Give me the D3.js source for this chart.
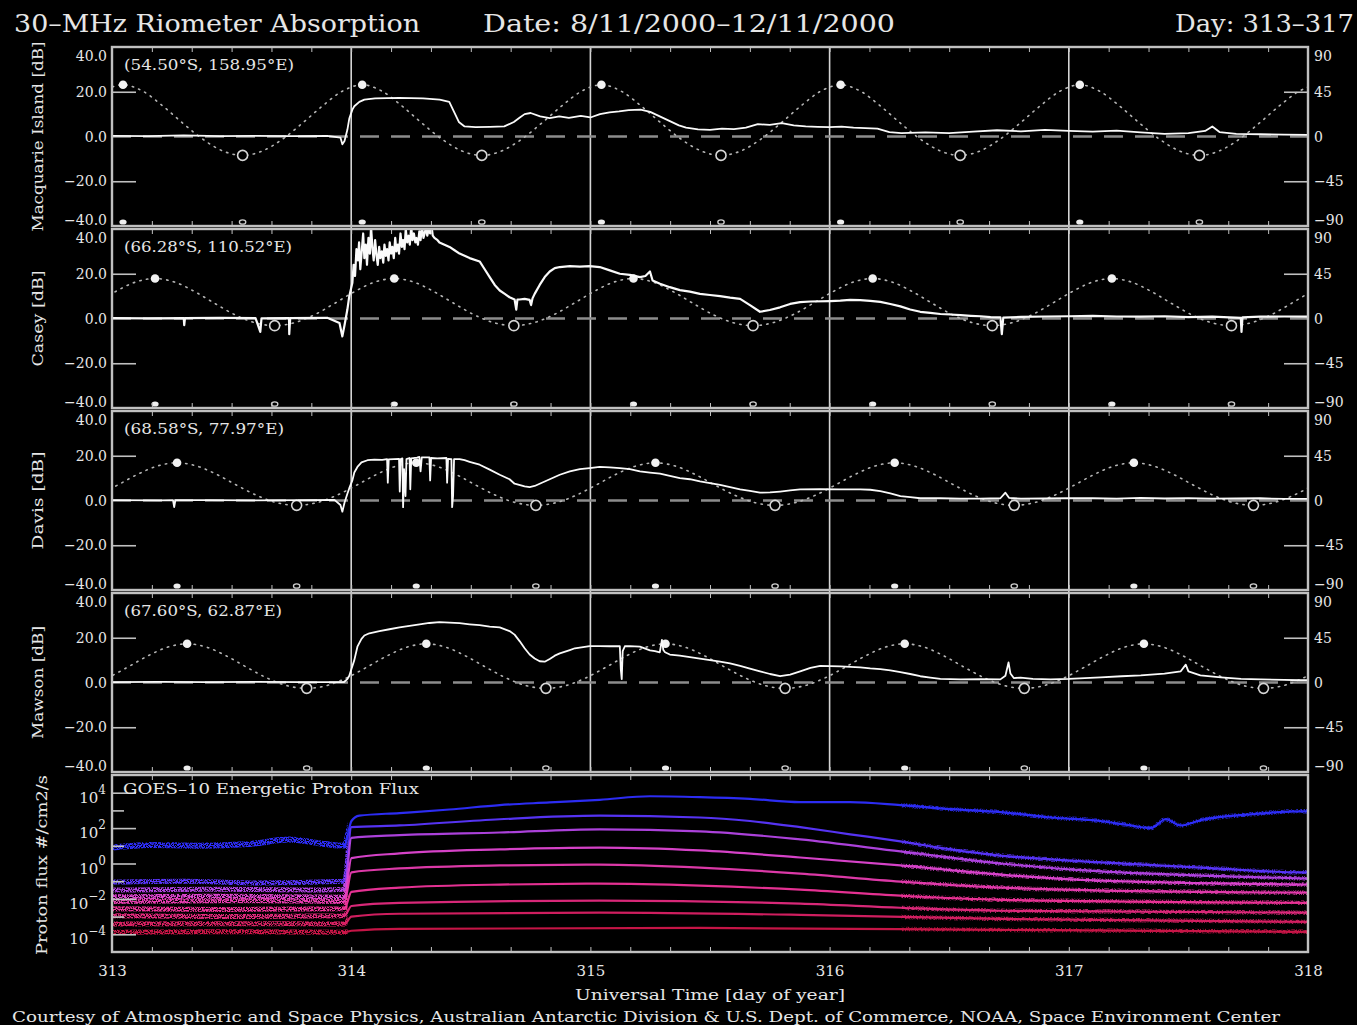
<!DOCTYPE html>
<html>
<head>
<meta charset="utf-8">
<title>30-MHz Riometer Absorption</title>
<script src="https://cdn.jsdelivr.net/npm/d3@7"></script>
<style>
  html, body { margin: 0; padding: 0; background: #000; }
  svg { display: block; }
</style>
</head>
<body>
<svg id="chart" width="1357" height="1025"></svg>
<script>
// ---------- axis ticks and labels ----------
const dayTicks = [313, 314, 315, 316, 317, 318];
const dbTicks = [-40, -20, 0, 20, 40];
const elevTicks = [-90, -45, 0, 45, 90];
const fluxLabelExp = [-4, -2, 0, 2, 4];
const fluxTickExp = [-4, -3, -2, -1, 0, 1, 2, 3, 4];

// ---------- stations ----------
const stationNames = ["Macquarie Island", "Casey", "Davis", "Mawson"];
const stationCoords = ["(54.50°S, 158.95°E)", "(66.28°S, 110.52°E)", "(68.58°S, 77.97°E)", "(67.60°S, 62.87°E)"];

// Solar elevation: local noon (UT, day of year) and the daily profile in 2-hour steps after noon [deg]
const sunNoon = [313.046, 313.180, 313.272, 313.314];
const sunHours = [0, 2, 4, 6, 8, 10, 12, 14, 16, 18, 20, 22, 24];
const sunElevMacquarie = [52.0, 45.5, 30.6, 13.4, -2.7, -14.5, -19.0, -14.5, -2.7, 13.4, 30.6, 45.5, 52.0];
const sunElevCasey = [40.2, 36.5, 26.9, 15.1, 3.8, -4.2, -7.2, -4.2, 3.8, 15.1, 26.9, 36.5, 40.2];
const sunElevDavis = [37.9, 34.6, 26.1, 15.3, 5.1, -2.2, -4.9, -2.2, 5.1, 15.3, 26.1, 34.6, 37.9];
const sunElevMawson = [38.9, 35.4, 26.4, 15.2, 4.6, -3.1, -5.9, -3.1, 4.6, 15.2, 26.4, 35.4, 38.9];

// Riometer absorption [day of year, dB]
const absMacquarie = [
  [313.000, 0.3], [313.150, 0.2], [313.300, 0.5], [313.450, 0.2], [313.600, 0.3], [313.750, 0.2],
  [313.900, 0.3], [313.955, -0.5], [313.963, -3.5], [313.972, -2.0], [313.984, 3], [313.992, 8],
  [314.005, 12], [314.013, 13.5], [314.034, 15.5], [314.055, 16.5], [314.100, 17], [314.200, 17.3],
  [314.300, 17.0], [314.370, 16.5], [314.410, 15.5], [314.430, 11], [314.450, 6.5], [314.474, 4.5],
  [314.520, 4.2], [314.580, 4.3], [314.640, 4.5], [314.680, 6.5], [314.705, 8.5], [314.725, 10],
  [314.750, 10.5], [314.790, 9], [314.830, 8.2], [314.870, 9], [314.910, 8.3], [314.960, 9.2],
  [315.000, 8.5], [315.040, 10], [315.080, 10.8], [315.120, 11.2], [315.160, 11.8], [315.210, 12],
  [315.250, 11], [315.290, 9], [315.330, 7], [315.370, 5], [315.400, 4], [315.450, 3.2],
  [315.500, 3], [315.550, 3.5], [315.600, 3.3], [315.650, 4], [315.700, 5.5], [315.750, 5.2],
  [315.800, 6], [315.850, 5], [315.900, 4.5], [315.950, 4.3], [316.000, 4.2], [316.050, 4.4],
  [316.100, 4.0], [316.200, 3.5], [316.250, 2], [316.300, 1.5], [316.400, 1.8], [316.500, 1.5],
  [316.600, 2.2], [316.700, 2.8], [316.800, 2.3], [316.900, 3], [317.000, 2.5], [317.100, 2.2],
  [317.200, 2.6], [317.300, 1.8], [317.400, 1.2], [317.500, 1.5], [317.570, 2.5], [317.600, 4.5],
  [317.630, 2.0], [317.700, 1.2], [317.800, 1.0], [317.900, 0.8], [318.000, 0.7]
];
const absCasey = [
  [313.000, 0.2], [313.150, 0.1], [313.300, 0.2], [313.302, -3], [313.305, 0.2], [313.450, 0.3],
  [313.600, 0.2], [313.620, -6], [313.625, 0.1], [313.740, 0.2], [313.741, -7], [313.745, 0.2],
  [313.900, 0.3], [313.951, -2], [313.963, -8], [313.972, -3], [313.984, 4], [313.992, 10],
  [314.005, 16], [314.010, 24], [314.016, 19], [314.022, 31], [314.028, 26], [314.033, 34],
  [314.038, 22], [314.044, 30], [314.050, 38], [314.055, 27], [314.061, 33], [314.066, 24],
  [314.072, 36], [314.078, 29], [314.083, 41], [314.089, 31], [314.094, 26], [314.100, 35],
  [314.106, 28], [314.111, 24], [314.117, 32], [314.122, 27], [314.128, 30], [314.134, 25],
  [314.139, 33], [314.145, 28], [314.150, 31], [314.156, 26], [314.161, 34], [314.167, 29],
  [314.172, 32], [314.178, 27], [314.184, 36], [314.189, 30], [314.195, 33], [314.200, 29],
  [314.206, 38], [314.212, 32], [314.217, 35], [314.223, 31], [314.228, 40], [314.234, 34],
  [314.240, 37], [314.245, 33], [314.251, 41], [314.256, 35], [314.262, 38], [314.268, 34],
  [314.273, 36], [314.279, 33], [314.285, 39], [314.290, 35], [314.296, 41], [314.302, 36],
  [314.307, 38], [314.313, 41], [314.318, 37], [314.324, 40], [314.330, 38], [314.336, 41],
  [314.341, 37], [314.348, 36], [314.361, 35], [314.369, 34],
  [314.390, 33], [314.411, 32], [314.432, 30.5], [314.453, 29], [314.474, 28], [314.495, 27],
  [314.537, 25.5], [314.558, 22], [314.579, 18.5], [314.600, 15], [314.621, 12.5], [314.642, 11],
  [314.662, 9.5], [314.683, 8.5], [314.690, 4], [314.695, 8.5], [314.704, 8.5], [314.725, 8.8],
  [314.746, 8.3], [314.752, 6], [314.758, 9], [314.767, 11], [314.788, 15], [314.809, 18.5],
  [314.830, 21], [314.851, 22.5], [314.872, 23], [314.914, 23.4], [314.956, 23.2], [314.997, 23.4],
  [315.039, 23], [315.081, 21.5], [315.123, 20], [315.165, 19.5], [315.207, 18.5], [315.230, 19],
  [315.249, 21], [315.260, 17], [315.291, 15.5], [315.332, 14], [315.374, 12.7], [315.416, 12],
  [315.458, 11], [315.500, 10.5], [315.542, 10], [315.584, 9.3], [315.626, 8.8], [315.667, 6],
  [315.709, 3], [315.750, 3.8], [315.793, 5], [315.835, 6.5], [315.877, 7.3], [315.920, 7.6],
  [316.003, 7.8], [316.045, 8], [316.086, 8.3], [316.128, 8.2], [316.170, 7.9], [316.212, 7.4],
  [316.254, 6.5], [316.296, 5.4], [316.337, 4], [316.379, 3], [316.421, 2.5], [316.463, 2],
  [316.505, 1.8], [316.547, 1.5], [316.590, 1.2], [316.631, 1.0], [316.673, 0.6], [316.714, 0.5],
  [316.720, -7], [316.726, 0.4], [316.800, 0.7], [316.900, 0.9], [317.000, 1.0], [317.100, 1.2],
  [317.200, 0.9], [317.300, 0.8], [317.400, 1.0], [317.500, 0.6], [317.600, 0.8], [317.719, 0.3],
  [317.722, -6], [317.726, 0.5], [317.800, 0.8], [317.900, 0.9], [318.000, 0.8]
];
const absDavis = [
  [313.000, 0.2], [313.200, 0.1], [313.255, 0.2], [313.260, -3], [313.265, 0.2], [313.400, 0.2],
  [313.600, 0.1], [313.800, 0.2], [313.930, 0.3], [313.955, -2], [313.963, -5], [313.972, -1],
  [313.984, 3], [313.992, 5.5], [314.005, 9], [314.013, 12.5], [314.026, 15], [314.043, 17],
  [314.068, 18], [314.097, 18.3], [314.130, 18.2], [314.150, 18.5], [314.153, 8], [314.157, 18.4],
  [314.200, 18.6], [314.203, 4], [314.207, 18.5], [314.214, 18.8], [314.217, -3], [314.221, 14],
  [314.227, 2], [314.231, 18.5], [314.244, 19], [314.247, 5], [314.251, 18.8], [314.275, 19.2],
  [314.285, 19.5], [314.290, 13], [314.295, 19.3], [314.327, 19.3], [314.330, 9], [314.334, 19],
  [314.360, 18.8], [314.398, 19], [314.401, 8], [314.405, 18.6], [314.419, 18.5], [314.422, -3],
  [314.426, 2], [314.430, 18.5], [314.453, 18.5], [314.474, 18], [314.495, 17.3], [314.537, 16],
  [314.579, 13.8], [314.621, 11.5], [314.662, 9.5], [314.683, 7.5], [314.725, 6.3], [314.746, 6],
  [314.767, 6.5], [314.788, 7.5], [314.809, 8.5], [314.851, 10.5], [314.872, 11.5], [314.914, 13],
  [314.956, 14], [314.997, 14.5], [315.039, 15], [315.081, 14.8], [315.123, 14.5], [315.165, 14],
  [315.207, 13], [315.249, 12.5], [315.291, 12], [315.332, 11], [315.374, 10], [315.416, 9.5],
  [315.458, 8.5], [315.500, 7.8], [315.542, 7], [315.584, 6], [315.626, 5], [315.667, 4.3],
  [315.709, 3.5], [315.751, 3.6], [315.793, 4], [315.835, 4.5], [315.877, 5], [315.960, 5.1],
  [316.045, 5], [316.128, 5], [316.170, 4.8], [316.212, 4.2], [316.254, 3.2], [316.296, 2],
  [316.337, 1.5], [316.379, 1], [316.463, 1], [316.547, 0.8], [316.630, 0.8], [316.714, 1],
  [316.735, 3.5], [316.750, 1.2], [316.800, 0.8], [316.900, 0.9], [317.000, 1.1], [317.100, 1.0],
  [317.200, 0.8], [317.300, 1.2], [317.400, 0.9], [317.500, 1.1], [317.600, 0.8], [317.700, 0.9],
  [317.800, 1.0], [317.900, 0.7], [318.000, 0.7]
];
const absMawson = [
  [313.000, 0.2], [313.200, 0.3], [313.400, 0.2], [313.600, 0.3], [313.800, 0.2], [313.970, 0.2],
  [313.984, 1.5], [313.992, 3], [314.001, 6], [314.013, 10], [314.026, 16], [314.043, 19.5],
  [314.055, 21], [314.076, 22], [314.118, 23], [314.160, 23.8], [314.202, 24.6], [314.244, 25.3],
  [314.286, 26], [314.327, 26.6], [314.369, 27], [314.411, 26.8], [314.453, 26.5], [314.495, 26],
  [314.537, 25.6], [314.579, 25], [314.621, 24.6], [314.662, 23], [314.683, 21.4], [314.704, 18.5],
  [314.725, 15.3], [314.746, 12.5], [314.767, 10.7], [314.788, 9.5], [314.809, 9.3], [314.830, 10.5],
  [314.851, 12], [314.872, 13], [314.914, 14.5], [314.935, 15.3], [314.997, 16.3], [315.039, 16.3],
  [315.081, 16.2], [315.123, 16.3], [315.127, 6], [315.131, 1.5], [315.135, 14], [315.144, 16.2],
  [315.165, 16.3], [315.207, 16], [315.249, 14.4], [315.270, 14], [315.290, 13.5], [315.299, 19],
  [315.305, 14.5], [315.312, 13.5], [315.332, 12.5], [315.374, 12], [315.416, 11.3], [315.458, 10.7],
  [315.500, 10], [315.542, 9.3], [315.584, 8.5], [315.626, 7.4], [315.667, 6.2], [315.709, 5],
  [315.751, 3.8], [315.793, 2.8], [315.835, 3.5], [315.877, 5], [315.920, 6.5], [315.961, 7.4],
  [316.003, 7.3], [316.045, 7.2], [316.086, 7], [316.128, 6.8], [316.170, 6.3], [316.212, 6],
  [316.254, 5.4], [316.296, 4.6], [316.337, 3.8], [316.379, 2.8], [316.421, 2.2], [316.463, 1.6],
  [316.547, 1.4], [316.630, 1.5], [316.714, 1.4], [316.735, 3], [316.748, 9], [316.756, 4],
  [316.770, 2], [316.798, 2.2], [316.850, 1.6], [316.924, 1.4], [317.000, 1.6], [317.133, 2.3],
  [317.220, 2.8], [317.301, 3.2], [317.400, 4], [317.468, 5], [317.489, 8], [317.500, 5],
  [317.550, 3.2], [317.636, 2.3], [317.720, 1.6], [317.803, 1.4], [317.900, 1.2], [317.971, 1.0],
  [318.000, 1.0]
];

// GOES-10 proton flux channels [day of year, log10 flux (#/cm2/s)], lowest energy first
const goesCh1 = [
  [313.000, 0.9], [313.155, 1.05], [313.364, 1.0], [313.574, 1.1], [313.741, 1.35], [313.867, 1.15],
  [313.972, 1.0], [314.001, 2.4], [314.034, 2.7], [314.202, 2.85], [314.411, 3.05], [314.621, 3.3],
  [314.830, 3.45], [315.039, 3.6], [315.249, 3.8], [315.458, 3.75], [315.667, 3.65], [315.877, 3.47],
  [316.086, 3.47], [316.296, 3.3], [316.505, 3.07], [316.714, 2.9], [316.924, 2.6], [317.133, 2.4],
  [317.259, 2.15], [317.343, 2.0], [317.405, 2.5], [317.468, 2.15], [317.552, 2.45], [317.761, 2.78],
  [317.971, 2.95], [318.000, 2.95]
];
const goesCh2 = [
  [313.000, -1.05], [313.300, -1.0], [313.600, -1.1], [313.972, -1.0], [314.001, 2.05], [314.202, 2.15],
  [314.621, 2.5], [315.039, 2.7], [315.458, 2.6], [315.667, 2.4], [315.877, 2.05], [316.086, 1.65],
  [316.296, 1.25], [316.505, 0.8], [316.714, 0.45], [316.924, 0.23], [317.133, 0.06], [317.552, -0.23],
  [317.971, -0.5], [318.000, -0.5]
];
const goesCh3 = [
  [313.000, -1.5], [313.400, -1.45], [313.800, -1.5], [313.972, -1.45], [314.001, 1.45], [314.202, 1.6],
  [314.621, 1.75], [315.039, 1.93], [315.458, 1.82], [315.877, 1.36], [316.296, 0.68], [316.714, 0.0],
  [317.133, -0.45], [317.552, -0.68], [318.000, -0.85]
];
const goesCh4 = [
  [313.000, -1.88], [313.500, -1.85], [313.972, -1.9], [314.001, 0.3], [314.202, 0.57], [314.621, 0.8],
  [315.039, 0.9], [315.458, 0.74], [315.877, 0.34], [316.296, -0.11], [316.714, -0.63], [317.133, -0.97],
  [318.000, -1.19]
];
const goesCh5 = [
  [313.000, -2.15], [313.500, -2.1], [313.972, -2.15], [314.001, -0.5], [314.202, -0.28], [314.621, -0.11],
  [315.039, -0.06], [315.458, -0.23], [315.877, -0.57], [316.296, -1.02], [316.714, -1.36], [317.133, -1.53],
  [318.000, -1.65]
];
const goesCh6 = [
  [313.000, -2.55], [313.500, -2.6], [313.972, -2.55], [314.001, -1.6], [314.202, -1.36], [314.621, -1.19],
  [315.039, -1.14], [315.458, -1.25], [315.877, -1.48], [316.296, -1.82], [316.714, -2.05], [318.000, -2.22]
];
const goesCh7 = [
  [313.000, -2.95], [313.500, -3.0], [313.972, -2.95], [314.001, -2.4], [314.202, -2.22], [315.039, -2.1],
  [315.877, -2.27], [316.296, -2.5], [316.714, -2.67], [318.000, -2.78]
];
const goesCh8 = [
  [313.000, -3.42], [313.500, -3.4], [313.972, -3.42], [314.001, -3.0], [314.202, -2.84], [315.039, -2.78],
  [315.877, -2.9], [316.714, -3.13], [318.000, -3.3]
];
const goesCh9 = [
  [313.000, -3.88], [313.500, -3.85], [313.972, -3.88], [314.001, -3.8], [314.202, -3.69], [315.458, -3.64],
  [316.714, -3.75], [318.000, -3.86]
];

// ---------- styling ----------
const goesColors = ["#2e2eff", "#5a36ff", "#b444e6", "#e046d2", "#e83cb0", "#f0349a", "#e42a7e", "#da2064", "#d0164a"];
const serif = '"DejaVu Serif", "Liberation Serif", serif';
const ink = "#e6e6e6";
const frameCol = "#c0c0c0";

const W = 1357, H = 1025;
const left = 112, right = 1308;
const rioTop = [47, 229, 411, 593];
const rioH = 179;
const goesTop = 775, goesBottom = 952;

const sunElev = [sunElevMacquarie, sunElevCasey, sunElevDavis, sunElevMawson];
const absorption = [absMacquarie, absCasey, absDavis, absMawson];
const goesChannels = [goesCh1, goesCh2, goesCh3, goesCh4, goesCh5, goesCh6, goesCh7, goesCh8, goesCh9];
const labelLengths = [190, 96, 98, 113];
const coordLengths = [170, 168, 160, 158];

const svg = d3.select("#chart");
svg.append("rect").attr("width", W).attr("height", H).attr("fill", "#000");
const defs = svg.append("defs");

// grainy texture for low-count proton channels
function speckleFilter(id, slope, offset) {
  const f = defs.append("filter").attr("id", id)
    .attr("filterUnits", "userSpaceOnUse").attr("x", 0).attr("y", goesTop).attr("width", W).attr("height", goesBottom - goesTop);
  f.append("feTurbulence").attr("type", "fractalNoise").attr("baseFrequency", 0.75)
    .attr("numOctaves", 1).attr("seed", 7).attr("result", "noise");
  f.append("feColorMatrix").attr("in", "noise").attr("type", "matrix")
    .attr("values", `0 0 0 0 0  0 0 0 0 0  0 0 0 0 0  ${slope} 0 0 0 ${offset}`).attr("result", "mask");
  f.append("feComposite").attr("in", "SourceGraphic").attr("in2", "mask").attr("operator", "in");
}
speckleFilter("speckle", 7, -2.7);
speckleFilter("speckle-late", 7, -3.2);

const x = d3.scaleLinear().domain([313, 318]).range([left, right]);
const minorTicks = d3.range(313, 318.0001, 1 / 6);

function stripDomain(s) { s.select(".domain").remove(); }

// ---------- title ----------
const titleG = svg.append("g").attr("font-family", serif).attr("font-size", 24).attr("fill", ink);
titleG.append("text").attr("x", 14).attr("y", 32).attr("textLength", 406).attr("lengthAdjust", "spacingAndGlyphs")
  .text("30–MHz Riometer Absorption");
titleG.append("text").attr("x", 483).attr("y", 32).attr("textLength", 412).attr("lengthAdjust", "spacingAndGlyphs")
  .text("Date: 8/11/2000–12/11/2000");
titleG.append("text").attr("x", 1175).attr("y", 32).attr("textLength", 179).attr("lengthAdjust", "spacingAndGlyphs")
  .text("Day: 313–317");

// ---------- day boundaries through the riometer panels ----------
svg.append("g").selectAll("line").data(dayTicks.slice(1, -1)).join("line")
  .attr("x1", d => x(d)).attr("x2", d => x(d))
  .attr("y1", rioTop[0]).attr("y2", rioTop[3] + rioH)
  .attr("stroke", "#d4d4d4").attr("stroke-width", 1.6);

// ---------- riometer panels ----------
stationNames.forEach((name, i) => {
  const top = rioTop[i], bottom = top + rioH;
  const y = d3.scaleLinear().domain([-40, 40]).range([bottom, top]);
  const yE = d3.scaleLinear().domain([-90, 90]).range([bottom, top]);
  const clipId = "clip-rio-" + i;
  defs.append("clipPath").attr("id", clipId).append("rect")
    .attr("x", left).attr("y", top).attr("width", right - left).attr("height", rioH);

  const g = svg.append("g");
  const plot = g.append("g").attr("clip-path", `url(#${clipId})`);

  // 0 dB reference
  plot.append("line").attr("x1", left).attr("x2", right).attr("y1", y(0)).attr("y2", y(0))
    .attr("stroke", "#8c8c8c").attr("stroke-width", 2.5).attr("stroke-dasharray", "19 12");

  // solar elevation, dotted
  const prof = sunElev[i];
  const pts = [];
  for (let k = -1; k <= 5; k++) {
    sunHours.forEach((h, j) => {
      if (j < sunHours.length - 1) pts.push([sunNoon[i] + k + h / 24, prof[j]]);
    });
  }
  plot.append("path").datum(pts)
    .attr("d", d3.line().x(d => x(d[0])).y(d => yE(d[1])).curve(d3.curveMonotoneX))
    .attr("fill", "none").attr("stroke", "#b4b4b4").attr("stroke-width", 1.6)
    .attr("stroke-dasharray", "1.4 5.4").attr("stroke-linecap", "round");

  const noons = [-1, 0, 1, 2, 3, 4, 5].map(k => sunNoon[i] + k).filter(t => t >= 313 && t <= 318);
  const mids = [-1, 0, 1, 2, 3, 4, 5].map(k => sunNoon[i] + k + 0.5).filter(t => t >= 313 && t <= 318);

  plot.selectAll("circle.smax").data(noons).join("circle").attr("class", "smax")
    .attr("cx", d => x(d)).attr("cy", yE(prof[0])).attr("r", 4.3).attr("fill", "#f2f2f2");
  plot.selectAll("circle.smin").data(mids).join("circle").attr("class", "smin")
    .attr("cx", d => x(d)).attr("cy", yE(prof[6])).attr("r", 5).attr("fill", "#000")
    .attr("stroke", "#d6d6d6").attr("stroke-width", 1.6);

  // noon / midnight markers on the bottom edge
  plot.selectAll("ellipse.bn").data(noons).join("ellipse").attr("class", "bn")
    .attr("cx", d => x(d)).attr("cy", bottom - 4).attr("rx", 3.6).attr("ry", 2.6).attr("fill", "#eeeeee");
  plot.selectAll("ellipse.bm").data(mids).join("ellipse").attr("class", "bm")
    .attr("cx", d => x(d)).attr("cy", bottom - 4).attr("rx", 3.2).attr("ry", 2.2).attr("fill", "none")
    .attr("stroke", "#cfcfcf").attr("stroke-width", 1.3);

  // absorption trace
  plot.append("path").datum(absorption[i])
    .attr("d", d3.line().x(d => x(d[0])).y(d => y(d[1])))
    .attr("fill", "none").attr("stroke", "#fafafa").attr("stroke-width", i === 1 ? 2.2 : 1.8)
    .attr("stroke-linejoin", "round");

  // frame
  g.append("rect").attr("x", left).attr("y", top).attr("width", right - left).attr("height", rioH)
    .attr("fill", "none").attr("stroke", frameCol).attr("stroke-width", 2.4);

  // inner ticks
  g.append("g").attr("transform", `translate(${left},0)`)
    .call(d3.axisLeft(y).tickValues([-20, 20]).tickSize(-24).tickFormat(""))
    .call(stripDomain).attr("color", frameCol).selectAll("line").attr("stroke-width", 1.6);
  g.append("g").attr("transform", `translate(${right},0)`)
    .call(d3.axisRight(yE).tickValues([-45, 45]).tickSize(-24).tickFormat(""))
    .call(stripDomain).attr("color", frameCol).selectAll("line").attr("stroke-width", 1.6);
  g.append("g").attr("transform", `translate(0,${bottom})`)
    .call(d3.axisBottom(x).tickValues(minorTicks).tickSize(-5).tickFormat(""))
    .call(stripDomain).attr("color", frameCol);
  g.append("g").attr("transform", `translate(0,${top})`)
    .call(d3.axisTop(x).tickValues(minorTicks).tickSize(-5).tickFormat(""))
    .call(stripDomain).attr("color", frameCol);

  // tick labels, end values pulled inside the panel
  const fs = 14;
  const shift = (d, hi) => d === hi ? 13.5 : d === -hi ? -1.5 : 4.5;
  g.append("g").attr("transform", `translate(${left},0)`)
    .call(d3.axisLeft(y).tickValues(dbTicks).tickSize(0).tickPadding(5).tickFormat(d3.format(".1f")))
    .call(stripDomain)
    .attr("color", ink).attr("font-family", serif).attr("font-size", fs)
    .selectAll(".tick text").attr("dy", d => shift(d, 40));
  g.append("g").attr("transform", `translate(${right},0)`)
    .call(d3.axisRight(yE).tickValues(elevTicks).tickSize(0).tickPadding(6).tickFormat(d3.format("d")))
    .call(stripDomain)
    .attr("color", ink).attr("font-family", serif).attr("font-size", fs)
    .selectAll(".tick text").attr("dy", d => shift(d, 90));

  // station label and coordinates
  svg.append("text").attr("transform", `translate(43,${(top + bottom) / 2}) rotate(-90)`)
    .attr("text-anchor", "middle").attr("font-family", serif).attr("font-size", 14).attr("fill", ink)
    .attr("textLength", labelLengths[i]).attr("lengthAdjust", "spacingAndGlyphs")
    .text(name + " [dB]");
  svg.append("text").attr("x", 124).attr("y", top + 23)
    .attr("font-family", serif).attr("font-size", 14).attr("fill", ink)
    .attr("textLength", coordLengths[i]).attr("lengthAdjust", "spacingAndGlyphs")
    .text(stationCoords[i]);
});

// ---------- GOES-10 proton flux ----------
const yG = d3.scaleLog().domain([1e-5, 1e5]).range([goesBottom, goesTop]);
const goesLine = d3.line().x(d => x(d[0])).y(d => yG(Math.pow(10, d[1]))).curve(d3.curveMonotoneX);

defs.append("clipPath").attr("id", "clip-goes-quiet").append("rect")
  .attr("x", left).attr("y", goesTop).attr("width", x(313.985) - left).attr("height", goesBottom - goesTop);
defs.append("clipPath").attr("id", "clip-goes-event").append("rect")
  .attr("x", x(313.965)).attr("y", goesTop).attr("width", right - x(313.965)).attr("height", goesBottom - goesTop);
defs.append("clipPath").attr("id", "clip-goes-late").append("rect")
  .attr("x", x(316.3)).attr("y", goesTop).attr("width", right - x(316.3)).attr("height", goesBottom - goesTop);

const gg = svg.append("g");
const quiet = gg.append("g").attr("clip-path", "url(#clip-goes-quiet)").append("g").attr("filter", "url(#speckle)");
const late = gg.append("g").attr("clip-path", "url(#clip-goes-late)").append("g").attr("filter", "url(#speckle-late)");
const event = gg.append("g").attr("clip-path", "url(#clip-goes-event)");

// speckled background-level bands before the event
quiet.selectAll("path").data(goesChannels).join("path")
  .attr("d", goesLine).attr("fill", "none")
  .attr("stroke", (d, k) => goesColors[k]).attr("stroke-width", (d, k) => k === 0 ? 6 : 5);
// spread once the flux decays
late.selectAll("path").data(goesChannels).join("path")
  .attr("d", goesLine).attr("fill", "none")
  .attr("stroke", (d, k) => goesColors[k]).attr("stroke-width", 4.5).attr("opacity", 0.8);
// channel traces
event.selectAll("path").data(goesChannels).join("path")
  .attr("d", goesLine).attr("fill", "none")
  .attr("stroke", (d, k) => goesColors[k]).attr("stroke-width", 2.2).attr("opacity", 0.95);

gg.append("rect").attr("x", left).attr("y", goesTop).attr("width", right - left).attr("height", goesBottom - goesTop)
  .attr("fill", "none").attr("stroke", frameCol).attr("stroke-width", 2.4);

// decade ticks: long where labelled, short between
gg.append("g").attr("transform", `translate(${left},0)`)
  .call(d3.axisLeft(yG).tickValues(fluxTickExp.filter(e => e % 2 === 0).map(e => Math.pow(10, e))).tickSize(-24).tickFormat(""))
  .call(stripDomain).attr("color", frameCol).selectAll("line").attr("stroke-width", 1.6);
gg.append("g").attr("transform", `translate(${left},0)`)
  .call(d3.axisLeft(yG).tickValues(fluxTickExp.filter(e => e % 2 !== 0).map(e => Math.pow(10, e))).tickSize(-12).tickFormat(""))
  .call(stripDomain).attr("color", frameCol).selectAll("line").attr("stroke-width", 1.6);
gg.append("g").attr("transform", `translate(0,${goesBottom})`)
  .call(d3.axisBottom(x).tickValues(minorTicks).tickSize(-5).tickFormat(""))
  .call(stripDomain).attr("color", frameCol);
gg.append("g").attr("transform", `translate(0,${goesTop})`)
  .call(d3.axisTop(x).tickValues(minorTicks).tickSize(-5).tickFormat(""))
  .call(stripDomain).attr("color", frameCol);

// 10^n labels
const fluxLab = gg.append("g").attr("font-family", serif).attr("fill", ink);
fluxLabelExp.forEach(e => {
  const t = fluxLab.append("text").attr("x", 106).attr("y", yG(Math.pow(10, e)) + 10).attr("text-anchor", "end");
  t.append("tspan").attr("font-size", 15).text("10");
  t.append("tspan").attr("font-size", 12).attr("dy", -9).text(e < 0 ? "−" + Math.abs(e) : String(e));
});

gg.append("text").attr("x", 123).attr("y", 794).attr("font-family", serif).attr("font-size", 14).attr("fill", ink)
  .attr("textLength", 296).attr("lengthAdjust", "spacingAndGlyphs").text("GOES–10 Energetic Proton Flux");
svg.append("text").attr("transform", `translate(47,${(goesBottom + 774) / 2 + 2}) rotate(-90)`)
  .attr("text-anchor", "middle").attr("font-family", serif).attr("font-size", 14).attr("fill", ink)
  .attr("textLength", 180).attr("lengthAdjust", "spacingAndGlyphs").text("Proton flux #/cm2/s");

// ---------- time axis ----------
svg.append("g").attr("transform", `translate(0,${goesBottom})`)
  .call(d3.axisBottom(x).tickValues(dayTicks).tickSize(0).tickPadding(13).tickFormat(d3.format("d")))
  .call(stripDomain)
  .attr("color", ink).attr("font-family", serif).attr("font-size", 15);

svg.append("text").attr("x", 710).attr("y", 1000).attr("text-anchor", "middle")
  .attr("font-family", serif).attr("font-size", 15).attr("fill", ink)
  .attr("textLength", 270).attr("lengthAdjust", "spacingAndGlyphs")
  .text("Universal Time [day of year]");

svg.append("text").attr("x", 12).attr("y", 1022)
  .attr("font-family", serif).attr("font-size", 14).attr("fill", ink)
  .attr("textLength", 1268).attr("lengthAdjust", "spacingAndGlyphs")
  .text("Courtesy of Atmospheric and Space Physics, Australian Antarctic Division & U.S. Dept. of Commerce, NOAA, Space Environment Center");
</script>
</body>
</html>
